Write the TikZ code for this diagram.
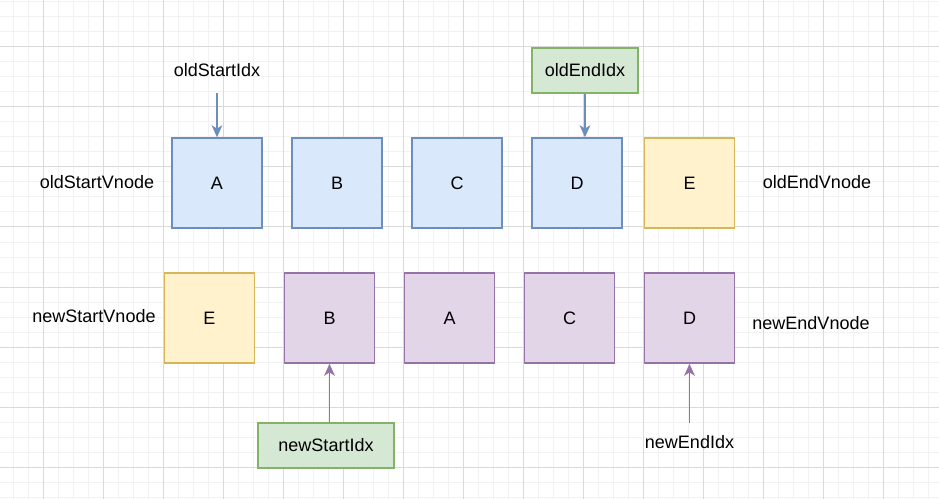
\documentclass[tikz,border=0pt]{standalone}
\usepackage{fontspec}
\setmainfont{Liberation Sans}
\usetikzlibrary{arrows.meta}
\definecolor{bfill}{HTML}{DAE8FC}\definecolor{bdraw}{HTML}{6C8EBF}
\definecolor{yfill}{HTML}{FFF2CC}\definecolor{ydraw}{HTML}{D6B656}
\definecolor{pfill}{HTML}{E1D5E7}\definecolor{pdraw}{HTML}{9673A6}
\definecolor{gfill}{HTML}{D5E8D4}\definecolor{gdraw}{HTML}{82B366}
\definecolor{minorgrid}{HTML}{F2F2F2}\definecolor{majorgrid}{HTML}{DADADA}
\begin{document}
\begin{tikzpicture}[x=0.75pt,y=-0.75pt,
  every node/.style={font=\fontsize{13.5pt}{16pt}\selectfont, text=black},
  box/.style={draw, line width=1.1pt, minimum width=67.5pt, minimum height=67.5pt, inner sep=0pt},
  oldbox/.style={box, fill=bfill, draw=bdraw},
  newbox/.style={box, fill=pfill, draw=pdraw},
  ebox/.style={box, fill=yfill, draw=ydraw},
  idxbox/.style={draw=gdraw, fill=gfill, line width=1.1pt, minimum height=33.75pt, inner sep=0pt},
  lbl/.style={inner sep=0pt},
  oarrow/.style={draw=bdraw, line width=1.4pt, -{Stealth[length=9pt,width=8pt,inset=2.5pt]}},
  narrow/.style={draw=pdraw, line width=1.4pt, -{Stealth[length=9pt,width=8pt,inset=2.5pt]}}
]
\useasboundingbox (0,0) rectangle (939,499);
\fill[white] (0,0) rectangle (939,499);
% grid
\foreach \x in {-2,13,...,939} \draw[minorgrid, line width=0.75pt] (\x,0) -- (\x,499);
\foreach \y in {2,17,...,499} \draw[minorgrid, line width=0.75pt] (0,\y) -- (939,\y);
\foreach \x in {43,103,...,939} \draw[majorgrid, line width=0.75pt] (\x,0) -- (\x,499);
\foreach \y in {47,107,...,499} \draw[majorgrid, line width=0.75pt] (0,\y) -- (939,\y);

% old row
\node[oldbox] (oA) at (217,183) {A};
\node[oldbox] (oB) at (337,183) {B};
\node[oldbox] (oC) at (457,183) {C};
\node[oldbox] (oD) at (577,183) {D};
\node[ebox]   (oE) at (689.5,183) {E};
% new row
\node[ebox]   (nE) at (209.5,318) {E};
\node[newbox] (nB) at (329.5,318) {B};
\node[newbox] (nA) at (449.5,318) {A};
\node[newbox] (nC) at (569.5,318) {C};
\node[newbox] (nD) at (689.5,318) {D};

% side labels
\node[lbl] (osv) at (97,182) {oldStartVnode};
\node[lbl] (oev) at (817,182) {oldEndVnode};
\node[lbl] (nsv) at (94,316) {newStartVnode};
\node[lbl] (nev) at (811,323) {newEndVnode};

% index markers
\node[lbl] (osi) at (217,70) {oldStartIdx};
\coordinate (osiend) at (217,93);
\draw[oarrow] (osiend -| oA.north) -- (oA.north);

\node[idxbox, minimum width=79.5pt] (oei) at (585,70.5) {oldEndIdx};
\draw[oarrow] (oei.south) -- (oei.south |- oD.north);

\node[idxbox, minimum width=102pt] (nsi) at (326,445.5) {newStartIdx};
\draw[narrow] (nsi.north -| nB.south) -- (nB.south);

\node[lbl] (nei) at (689.5,442) {newEndIdx};
\coordinate (neiend) at (689.5,423);
\draw[narrow] (neiend -| nD.south) -- (nD.south);
\end{tikzpicture}
\end{document}
